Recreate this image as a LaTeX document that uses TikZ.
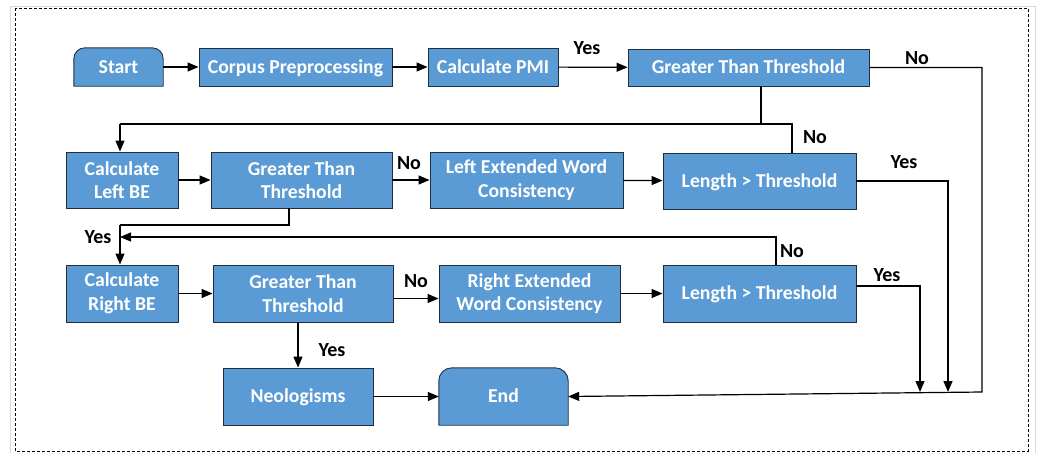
\documentclass[tikz,border=0pt]{standalone}
\usepackage{fontspec}
\setmainfont{Carlito}
\usetikzlibrary{arrows.meta,backgrounds}
\definecolor{boxblue}{HTML}{5B9BD5}
\definecolor{boxline}{HTML}{1F2F3F}
\begin{document}
\begin{tikzpicture}[x=1pt,y=-1pt,
  box/.style={draw=boxline,fill=boxblue,line width=0.9pt,text=white,font=\fontsize{19.7}{23.5}\selectfont\bfseries,align=center,inner sep=0pt},
  one/.style={text height=12.6pt,text depth=0pt},
  plain/.style={text=white,font=\fontsize{19.7}{23.5}\selectfont\bfseries,align=center,inner sep=0pt,one},
  roundtop/.style={draw=boxline,fill=boxblue,line width=0.9pt},
  lab/.style={font=\fontsize{20}{22}\selectfont\bfseries,text=black,inner sep=0pt},
  conn/.style={draw=black,line width=1.2pt},
  arr/.style={conn,-{Triangle[length=11pt,width=9pt]}}]
\useasboundingbox (0,0) rectangle (1040,453);
% frame
\draw[black!15,line width=0.8pt] (10,453) -- (10,6) -- (1035,6) -- (1035,453);
\draw[dash pattern=on 3pt off 2pt,line width=0.9pt] (15,8) rectangle (1028,451);
% nodes
\node[plain,minimum width=89pt,minimum height=38pt] (start) at (118.5,67) {Start};
\node[box,one,minimum width=193pt,minimum height=38pt] (cp) at (295.5,67) {Corpus Preprocessing};
\node[box,one,minimum width=130pt,minimum height=38pt] (pmi) at (493,67) {Calculate PMI};
\node[box,one,minimum width=241pt,minimum height=37pt] (g1) at (748.5,67.5) {Greater Than Threshold};
\node[box,minimum width=112pt,minimum height=56pt] (clbe) at (122,180) {Calculate\\Left BE};
\node[box,minimum width=181pt,minimum height=56pt] (g2) at (301.5,180) {Greater Than\\Threshold};
\node[box,minimum width=193pt,minimum height=56pt] (lewc) at (526.5,180) {Left Extended Word\\Consistency};
\node[box,one,minimum width=193pt,minimum height=56pt] (l1) at (759.5,181) {Length > Threshold};
\node[box,minimum width=112pt,minimum height=57pt] (crbe) at (122,293.5) {Calculate\\Right BE};
\node[box,minimum width=180pt,minimum height=57pt] (g3) at (303,293.5) {Greater Than\\Threshold};
\node[box,minimum width=181pt,minimum height=57pt] (rewc) at (529.5,293.5) {Right Extended\\Word Consistency};
\node[box,one,minimum width=193pt,minimum height=57pt] (l2) at (759.5,293.5) {Length > Threshold};
\node[box,one,minimum width=150pt,minimum height=57pt] (neo) at (298,396.5) {Neologisms};
\node[plain,minimum width=129pt,minimum height=57pt] (end) at (503.5,396.5) {End};
\begin{scope}[on background layer]
\path[roundtop] (start.south west) -- ([yshift=-11pt]start.north west) arc[start angle=180,end angle=90,radius=11pt] -- ([xshift=-11pt]start.north east) arc[start angle=90,end angle=0,radius=11pt] -- (start.south east) -- cycle;
\path[roundtop] (end.south west) -- ([yshift=-13pt]end.north west) arc[start angle=180,end angle=90,radius=13pt] -- ([xshift=-13pt]end.north east) arc[start angle=90,end angle=0,radius=13pt] -- (end.south east) -- cycle;
\end{scope}
% coordinates
\coordinate (jA) at (761,124);
\coordinate (jB) at (120,124);
\coordinate (jC) at (792,124);
\coordinate (jD) at (289,225);
\coordinate (jE) at (120,225);
\coordinate (jF) at (776,237);
\coordinate (jG) at (120,237);
\coordinate (rx) at (982,392);
\coordinate (ya) at (948,392);
\coordinate (yb) at (920,392);
% row 1
\draw[arr] (start) -- (cp);
\draw[arr] (cp) -- (pmi);
\draw[arr] (pmi) -- (g1);
\draw[arr] (g1.east) -| (rx) -- (end.east);
\draw[conn] (g1.south -| jA) -- (jA) -- (jB);
\draw[arr] (jB) -- (jB |- clbe.north);
\draw[conn] (l1.north -| jC) -- (jC) -- (jA);
% row 2
\draw[arr] (clbe) -- (g2);
\draw[arr] (g2) -- (lewc);
\draw[arr] (lewc) -- (l1);
\draw[arr] (l1.east) -| (ya);
\draw[conn] (g2.south -| jD) -- (jD) -- (jE);
\draw[arr] (jE) -- (jE |- crbe.north);
\draw[arr] (l2.north -| jF) -- (jF) -- (jG);
% row 3
\draw[arr] (crbe) -- (g3);
\draw[arr] ([yshift=-5pt]g3.east) -- ([yshift=-5pt]rewc.west);
\draw[arr] (rewc) -- (l2);
\draw[arr] ([yshift=7.5pt]l2.east) -| (yb);
\draw[arr] (g3.south -| neo.north) -- (neo.north);
\draw[arr] (neo) -- (end);
% labels
\node[lab] (t1) at (587,48) {Yes};
\node[lab] (t2) at (917,58) {No};
\node[lab] (t3) at (815,137) {No};
\node[lab] (t4) at (409,163) {No};
\node[lab] (t5) at (904,162) {Yes};
\node[lab] (t6) at (98,237) {Yes};
\node[lab] (t7) at (792,251) {No};
\node[lab] (t8) at (416,281) {No};
\node[lab] (t9) at (887,275) {Yes};
\node[lab] (t10) at (332,350) {Yes};
\end{tikzpicture}
\end{document}
